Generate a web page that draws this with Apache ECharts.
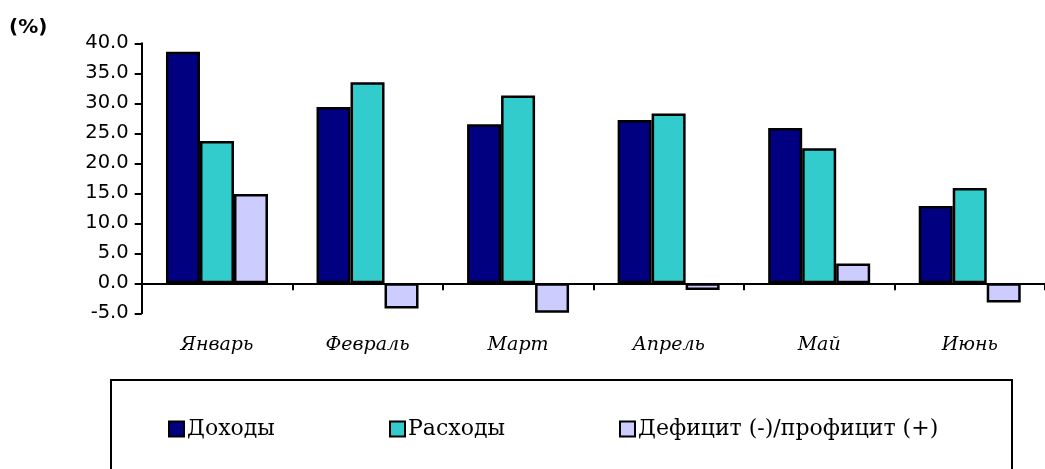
<!DOCTYPE html>
<html>
<head>
<meta charset="utf-8">
<script src="https://cdn.jsdelivr.net/npm/echarts@6/dist/echarts.min.js"></script>
<style>
html,body{margin:0;padding:0;background:#fff;}
#c{width:1045px;height:469px;}
</style>
</head>
<body>
<div id="c"></div>
<script>
const categories = ['Январь','Февраль','Март','Апрель','Май','Июнь'];
const revenue = [38.6, 29.4, 26.5, 27.2, 25.9, 12.9];
const expenses = [23.7, 33.5, 31.3, 28.3, 22.5, 15.9];
const balance = [14.9, -4.2, -4.9, -1.1, 3.3, -3.2];
const seriesNames = ['Доходы','Расходы','Дефицит (-)/профицит (+)'];
const yTicks = {min: -5, max: 40, interval: 5};

const chart = echarts.init(document.getElementById('c'), null, {renderer: 'canvas'});
const colors = ['#000080', '#33CCCC', '#CCCCFF'];
const dataSets = [revenue, expenses, balance];
const legendLeft = [168, 389, 619];

chart.setOption({
  animation: false,
  backgroundColor: '#ffffff',
  grid: {left: 141.7, right: -6.7, top: 43.3, height: 270, containLabel: false},
  graphic: [
    {type: 'text', left: 9, top: 18, style: {text: '(%)', font: 'bold 20px "DejaVu Sans"', fill: '#000'}},
    {type: 'rect', shape: {x: 111, y: 380, width: 901, height: 120}, style: {fill: 'none', stroke: '#000', lineWidth: 2}, z: 0}
  ],
  legend: seriesNames.map((n, i) => ({
    data: [n],
    left: legendLeft[i],
    top: 418,
    icon: 'rect',
    itemWidth: 15,
    itemHeight: 15,
    itemGap: 4,
    textStyle: {fontFamily: 'DejaVu Serif', fontSize: 22, color: '#000', padding: [0,0,0,-2]},
    padding: 0,
    selectedMode: false
  })),
  xAxis: {
    type: 'category',
    data: categories,
    axisLine: {onZero: true, lineStyle: {color: '#000', width: 2}},
    axisTick: {show: true, length: 7, inside: false, lineStyle: {color: '#000', width: 2}},
    axisLabel: {margin: 22, fontFamily: 'DejaVu Serif', fontStyle: 'italic', fontSize: 19, color: '#000'},
    splitLine: {show: false}
  },
  yAxis: {
    type: 'value',
    min: yTicks.min, max: yTicks.max, interval: yTicks.interval,
    axisLine: {show: true, lineStyle: {color: '#000', width: 2}},
    axisTick: {show: true, length: 7, lineStyle: {color: '#000', width: 2}},
    axisLabel: {margin: 13, fontFamily: 'DejaVu Sans', fontSize: 19.5, color: '#000', formatter: v => v.toFixed(1)},
    splitLine: {show: false}
  },
  series: dataSets.map((d, i) => ({
    name: seriesNames[i],
    type: 'bar',
    data: d,
    barWidth: 34,
    barGap: '0%',
    itemStyle: {color: colors[i], borderColor: '#000', borderWidth: 2.5},
    emphasis: {disabled: true}
  }))
});
</script>
</body>
</html>
